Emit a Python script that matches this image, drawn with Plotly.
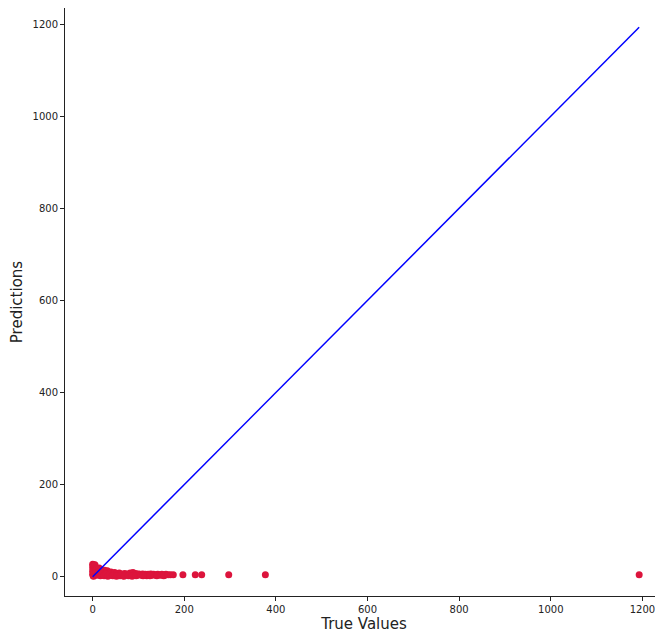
import plotly.graph_objects as go

true_values = [
    0, 1, 2, 3, 0, 1, 2, 0, 1, 3, 4, 2, 0, 5, 3,
    6, 8, 10, 12, 14, 16, 18, 20, 7, 9, 11, 13, 15, 17, 19,
    22, 24, 26, 28, 30, 32, 34, 36, 38, 40, 25, 29, 33, 37,
    42, 45, 48, 50, 53, 56, 58, 61, 64, 67, 70, 73, 76, 79, 82, 85, 88, 91, 94, 97, 100,
    44, 52, 60, 68, 78, 86, 95,
    103, 106, 109, 112, 115, 118, 121, 124, 127, 130, 133, 136, 139, 142, 145, 148, 151, 154, 157, 160,
    110, 125, 140, 155,
    165, 170, 176,
    197, 224, 238, 297, 377, 1193,
]
predictions = [
    27, 25, 26, 22, 20, 15, 10, 5, 2, 18, 24, 1, 12, 26, 8,
    19, 17, 18, 15, 19, 12, 16, 14, 8, 3, 6, 10, 4, 2, 7,
    12, 10, 14, 9, 11, 13, 6, 8, 3, 10, 2, 5, 1, 4,
    8, 6, 9, 4, 7, 3, 8, 5, 6, 2, 7, 4, 6, 3, 8, 5, 9, 4, 7, 3, 6,
    2, 1, 2, 1, 2, 1, 2,
    5, 3, 6, 4, 5, 2, 5, 4, 6, 3, 5, 4, 3, 5, 4, 3, 5, 4, 3, 5,
    2, 2, 2, 2,
    4, 4, 4,
    4, 4, 4, 4, 4, 4,
]

x_axis_title = "True Values"
y_axis_title = "Predictions"
tick_vals = [0, 200, 400, 600, 800, 1000, 1200]

line_ends = [min(true_values), max(true_values)]

fig = go.Figure()
fig.add_trace(go.Scatter(
    x=true_values, y=predictions, mode="markers",
    marker=dict(color="crimson", size=7, line=dict(width=0)),
    showlegend=False,
))
fig.add_trace(go.Scatter(
    x=line_ends, y=line_ends, mode="lines",
    line=dict(color="blue", width=1.5),
    showlegend=False,
))

axis_common = dict(
    showgrid=False, zeroline=False, showline=True, linecolor="#222",
    linewidth=1, ticks="outside", ticklen=4, tickcolor="#222",
    tickvals=tick_vals, tickfont=dict(family="DejaVu Sans", size=10, color="#222"),
)

# the page body has an 8px default margin, so the figure is offset by 8px
fig.update_layout(
    width=655, height=630,
    margin=dict(l=57, r=0, t=0, b=42),
    paper_bgcolor="white", plot_bgcolor="white",
    xaxis=dict(range=[-60.4, 1245], mirror=True,
               title=dict(text=x_axis_title, font=dict(family="DejaVu Sans", size=15, color="#222"), standoff=2),
               **axis_common),
    yaxis=dict(range=[-42, 1235],
               title=dict(text=y_axis_title, font=dict(family="DejaVu Sans", size=15, color="#222"), standoff=6),
               **axis_common),
)

fig.write_html("out.html")
